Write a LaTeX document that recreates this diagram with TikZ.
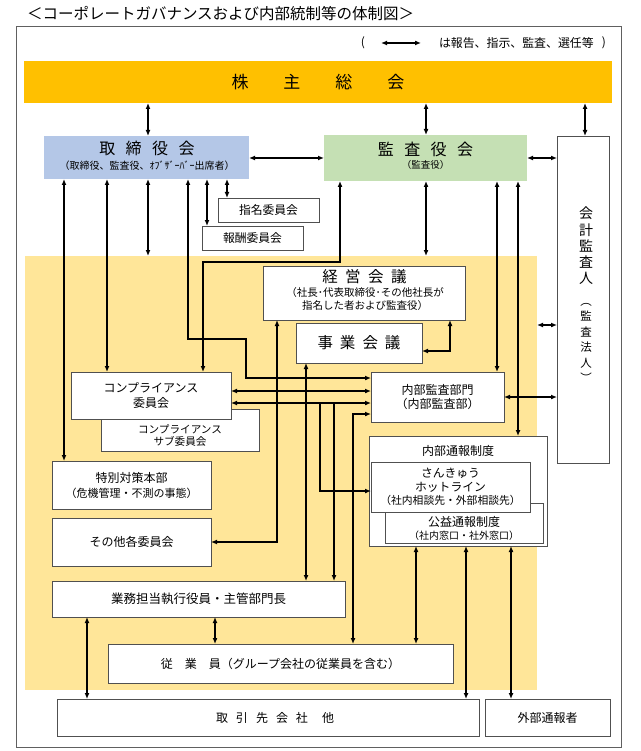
\documentclass[tikz,border=0pt]{standalone}
\usepackage{fontspec}
\setmainfont{Noto Sans CJK JP}
\usetikzlibrary{arrows.meta}
\definecolor{kabuorange}{HTML}{FFC000}
\definecolor{toriblue}{HTML}{B4C7E7}
\definecolor{kansagreen}{HTML}{C5E0B4}
\definecolor{ybg}{HTML}{FFE699}
\definecolor{boxgray}{HTML}{505050}
\definecolor{framegray}{HTML}{606060}
\newcommand\myfs[2]{\fontsize{#1pt}{#2pt}\selectfont}
\tikzset{
  box/.style={draw=boxgray, line width=0.8pt, fill=white, inner sep=0pt, outer sep=0pt, anchor=north west, align=center},
  cbox/.style={inner sep=0pt, outer sep=0pt, anchor=north west, align=center},
  txt/.style={inner sep=0pt, outer sep=0pt, align=center},
  con/.style={line width=1.3pt, {Latex[length=6pt,width=5pt]}-{Latex[length=6pt,width=5pt]}},
  arr/.style={line width=1.3pt, -{Latex[length=6pt,width=5pt]}},
}
\begin{document}
\begin{tikzpicture}[x=1pt,y=-1pt]
\useasboundingbox (0,0) rectangle (640,751);
\fill[white] (0,0) rectangle (640,751);

% helper coordinates
\foreach \v in {64,87,107,148,188,203,207,215,227,246,277,306,320,334,340,353,416,426,450,466,497,511,518,585}
  {\coordinate (X\v) at (\v,0);}
\foreach \v in {158,262,325,339,351,378,391,397,403,414,491,542}
  {\coordinate (Y\v) at (0,\v);}

% title
\node[txt, anchor=west, font=\myfs{15.5}{18}] (title) at (27,14) {＜コーポレートガバナンスおよび内部統制等の体制図＞};

% frame
\node[box, fill=none, draw=framegray, minimum width=605pt, minimum height=721pt] (frame) at (16,26) {};

% legend
\node[txt, font=\myfs{12}{14}] (lp) at (363,43) {(};
\coordinate (la) at (381,43);
\coordinate (lb) at (421,43);
\draw[con] (la) -- (lb);
\node[txt, anchor=west, font=\myfs{11.9}{14}] (lt) at (439,43) {は報告、指示、監査、選任等};
\node[txt, font=\myfs{12}{14}] (rp) at (604,43) {)};

% shareholders
\node[cbox, fill=kabuorange, minimum width=588pt, minimum height=42pt, font=\myfs{17}{20}] (kabu) at (24,61) {株\hspace{35pt}主\hspace{35pt}総\hspace{35pt}会};

% board
\node[cbox, fill=toriblue, minimum width=205pt, minimum height=43pt] (tori) at (44,136) {};
\node[txt, font=\myfs{16}{18}] (torit) at (147,148) {取\hspace{10.5pt}締\hspace{10.5pt}役\hspace{10.5pt}会};
\node[txt, font=\myfs{10}{12}] (toris) at (147,166) {（取締役、監査役、ｵﾌﾞｻﾞｰﾊﾞｰ出席者）};

% audit board
\node[cbox, fill=kansagreen, minimum width=203pt, minimum height=46pt] (kansa) at (324,135) {};
\node[txt, font=\myfs{16}{18}] (kansat) at (425.5,149) {監\hspace{10.5pt}査\hspace{10.5pt}役\hspace{10.5pt}会};
\node[txt, font=\myfs{9.5}{12}] (kansas) at (425.5,165) {（監査役）};

% accounting auditor
\node[box, minimum width=52pt, minimum height=327pt] (kaikei) at (557,136) {};
\node[txt, font=\myfs{14}{16.2}] (kaikeit) at (586,246) {会\\計\\監\\査\\人};
\node[txt, font=\myfs{11.5}{15.4}] (kaikeis) at (586,343) {︵\\監\\査\\法\\人\\︶};

% committees
\node[box, minimum width=101pt, minimum height=24pt, font=\myfs{11.8}{14}] (shimei) at (218,198) {指名委員会};
\node[box, minimum width=101pt, minimum height=24pt, font=\myfs{11.8}{14}] (hoshu) at (202,226) {報酬委員会};

% yellow area
\node[cbox, fill=ybg, minimum width=512pt, minimum height=434pt] (yellow) at (25,256) {};

% management meeting
\node[box, minimum width=202pt, minimum height=54pt] (keiei) at (263,266) {};
\node[txt, font=\myfs{15.5}{18}] (keieit) at (364.5,277) {経\hspace{7.5pt}営\hspace{7.5pt}会\hspace{7.5pt}議};
\node[txt, font=\myfs{10.5}{12.5}] (keieis) at (365,299) {（社長･代表取締役･その他社長が\\指名した者および監査役）};

\node[box, minimum width=126pt, minimum height=40pt, font=\myfs{15.5}{18}] (jigyo) at (296,323) {事\hspace{7pt}業\hspace{7pt}会\hspace{7pt}議};

\node[box, minimum width=133pt, minimum height=50pt, font=\myfs{12}{13.5}] (naibu) at (371,372) {内部監査部門\\（内部監査部）};

% compliance
\node[box, minimum width=158pt, minimum height=42pt] (sub) at (101,409) {};
\node[txt, font=\myfs{10.6}{12}] (subt) at (180,436) {コンプライアンス\\サブ委員会};
\node[box, minimum width=160pt, minimum height=47pt, font=\myfs{12}{15}] (compla) at (71,372) {コンプライアンス\\委員会};

\node[box, minimum width=159pt, minimum height=48pt, font=\myfs{11}{15}] (tokubetsu) at (52,461) {\myfs{12}{15}特別対策本部\\（危機管理・不測の事態）};
\node[box, minimum width=159pt, minimum height=48pt, font=\myfs{12}{14}] (sonota) at (52,518) {その他各委員会};
\node[box, minimum width=293pt, minimum height=36pt, font=\myfs{12.5}{14}] (gyomu) at (52,581) {業務担当執行役員・主管部門長};
\node[box, minimum width=345pt, minimum height=39pt, font=\myfs{12}{14}] (juugyou) at (108,644) {従　業　員（グループ会社の従業員を含む）};
\node[box, minimum width=422pt, minimum height=37pt] (torihiki) at (57,699) {};
\node[txt, font=\myfs{12}{14}] (torihikit) at (275,718) {取\hspace{8pt}引\hspace{8pt}先\hspace{8pt}会\hspace{8pt}社\hspace{14pt}他};
\node[box, minimum width=125pt, minimum height=37pt, font=\myfs{12}{14}] (gaibu) at (485,699) {外部通報者};

% whistleblowing
\node[box, minimum width=178pt, minimum height=110pt] (tsuho) at (369,436) {};
\node[txt, font=\myfs{12}{14}] (tsuhot) at (458,451) {内部通報制度};
\node[box, minimum width=158pt, minimum height=40pt] (koueki) at (385,503) {};
\node[txt, font=\myfs{12}{13}] (kouekit) at (464,528.5) {公益通報制度\\\myfs{10}{13}（社内窓口・社外窓口）};
\node[box, minimum width=159pt, minimum height=50pt, font=\myfs{11.8}{13.5}] (hotline) at (371,462) {さんきゅう\\ホットライン\\\myfs{10.8}{13.5}（社内相談先・外部相談先）};

% connectors
\draw[con] (kabu.south -| X148) -- (tori.north -| X148);
\draw[con] (kabu.south -| X426) -- (kansa.north -| X426);
\draw[con] (kabu.south -| X585) -- (kaikei.north -| X585);
\draw[con] (tori.east |- Y158) -- (kansa.west |- Y158);
\draw[con] (kansa.east |- Y158) -- (kaikei.west |- Y158);

\draw[con] (tori.south -| X64) -- (tokubetsu.north -| X64);
\draw[con] (tori.south -| X107) -- (compla.north -| X107);
\draw[con] (tori.south -| X148) -- (yellow.north -| X148);
\draw[con] (tori.south -| X188) -- (X188 |- Y339) -- (X246 |- Y339) -- (X246 |- Y378) -- (naibu.west |- Y378);
\draw[con] (tori.south -| X207) -- (hoshu.north -| X207);
\draw[con] (tori.south -| X227) -- (shimei.north -| X227);

\draw[con] (kansa.south -| X340) -- (X340 |- Y262) -- (X203 |- Y262) -- (compla.north -| X203);
\draw[con] (kansa.south -| X426) -- (yellow.north -| X426);
\draw[con] (kansa.south -| X497) -- (naibu.north -| X497);
\draw[con] (kansa.south -| X518) -- (tsuho.north -| X518);

\draw[con] (yellow.east |- Y325) -- (kaikei.west |- Y325);
\draw[con] (naibu.east |- Y397) -- (kaikei.west |- Y397);

\draw[con] (keiei.south -| X450) |- (jigyo.east |- Y351);
\draw[con] (keiei.south -| X277) |- (sonota.east |- Y542);
\draw[con] (jigyo.south -| X306) -- (gyomu.north -| X306);

\draw[con] (compla.east |- Y391) -- (naibu.west |- Y391);
\draw[con] (compla.east |- Y403) -- (naibu.west |- Y403);
\draw[arr] (X320 |- Y403) |- (hotline.west |- Y491);
\draw[arr] (X334 |- Y403) -- (gyomu.north -| X334);
\draw[con] (naibu.west |- Y414) -| (juugyou.north -| X353);

\draw[con] (tsuho.south -| X416) -- (juugyou.north -| X416);
\draw[con] (tsuho.south -| X466) -- (torihiki.north -| X466);
\draw[con] (tsuho.south -| X511) -- (gaibu.north -| X511);
\draw[con] (gyomu.south -| X87) -- (torihiki.north -| X87);
\draw[con] (gyomu.south -| X215) -- (juugyou.north -| X215);
\end{tikzpicture}
\end{document}
